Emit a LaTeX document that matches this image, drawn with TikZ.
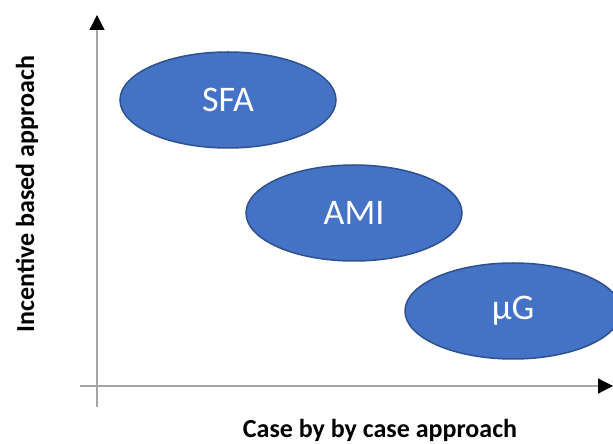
\documentclass[tikz,border=0pt]{standalone}
\usepackage{fontspec}
\setmainfont{Carlito}
\usetikzlibrary{shapes.geometric,arrows.meta}
\definecolor{fillblue}{HTML}{4472C4}
\definecolor{edgeblue}{HTML}{2F528F}
\definecolor{axisgray}{HTML}{A5A5A5}
\begin{document}
\begin{tikzpicture}[x=1pt, y=1pt,
  main/.style = {ellipse, draw=edgeblue, line width=1.5pt, fill=fillblue, text=white,
    minimum width=216pt, minimum height=96pt, inner sep=0pt, font=\fontsize{36}{40}\selectfont},
  axis/.style = {draw=axisgray, line width=1.2pt, -{Triangle[length=15pt, width=15pt, color=black]}},
  axislabel/.style = {font=\fontsize{26}{30}\selectfont\bfseries}]
          \useasboundingbox (0,0) rectangle (613,444);
          \clip (0,0) rectangle (613,444);
          \coordinate (ybot) at (97,37);
          \coordinate (ytop) at (97,429);
          \coordinate (xleft) at (80,58);
          \coordinate (xright) at (613,58);
          \draw[axis] (ybot) -- (ytop);
          \draw[axis] (xleft) -- (xright);
          \node[main] (sfa) at (228,344) {SFA};
          \node[main] (ami) at (354,231) {AMI};
          \node[main] (ug) at (513,133) {µG};
          \node[axislabel] (xlab) at (380,14) {Case by by case approach};
          \node[axislabel, rotate=90] (ylab) at (27,250) {Incentive based approach};
        \end{tikzpicture}
\end{document}
